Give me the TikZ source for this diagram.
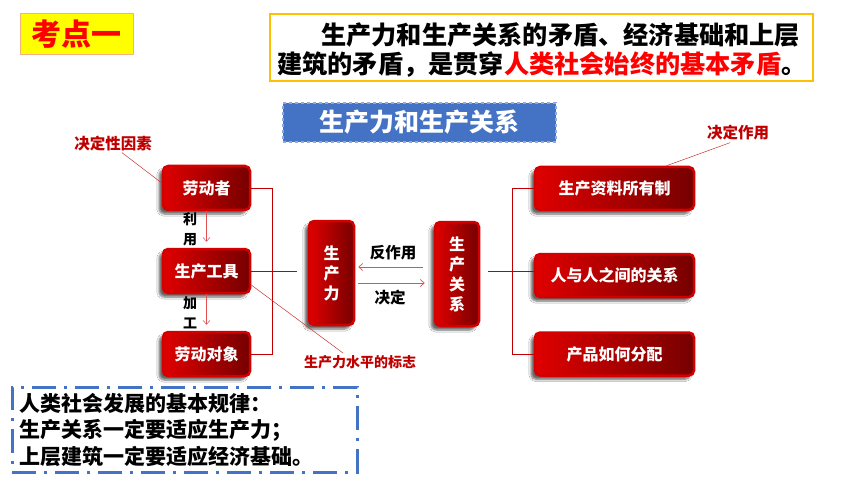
\documentclass[tikz,border=0pt]{standalone}
\usepackage{fontspec}
\setmainfont{Noto Sans CJK SC}
\usetikzlibrary{arrows.meta,shadows.blur,calc}
\definecolor{dred}{HTML}{C00000}
\definecolor{lred}{HTML}{E00000}
\definecolor{mred}{HTML}{C80000}
\definecolor{rred}{HTML}{760000}
\definecolor{rim}{HTML}{D40000}
\definecolor{kdy}{HTML}{FFFF00}
\definecolor{kdb}{HTML}{F4B183}
\definecolor{tbor}{HTML}{FFC000}
\definecolor{bluef}{HTML}{4472C4}
\definecolor{blueb}{HTML}{8FAADC}
\definecolor{arr}{HTML}{E05050}
\newcommand\myfs[1]{\fontsize{#1}{#1}\selectfont\bfseries}
\begin{document}
\begin{tikzpicture}[x=1pt,y=-1pt,
  redbox/.style={rounded corners=5pt, draw=rim, line width=2.5pt,
    left color=lred, middle color=mred, right color=rred,
    text=white, font=\myfs{16}, align=center, inner sep=0pt,
    blur shadow={shadow xshift=-4pt, shadow yshift=-4pt, shadow blur steps=6, shadow opacity=60}},
  hbox/.style={redbox, minimum width=87pt, minimum height=44pt},
  rbox/.style={redbox, minimum width=159pt, minimum height=43pt},
  vbox/.style={redbox, minimum width=45pt, minimum height=104pt, font=\fontsize{16}{20}\selectfont\bfseries},
  conn/.style={draw=dred, line width=0.8pt},
  thin/.style={draw=dred!80, line width=0.5pt},
  arrw/.style={draw=arr, line width=0.7pt, -{Straight Barb[length=4pt,width=7pt]}},
  lbl/.style={text=dred, font=\myfs{15.5}, inner sep=0pt},
  blbl/.style={text=black, font=\myfs{15.5}, inner sep=0pt}
]
\useasboundingbox (0,0) rectangle (860,484);
\fill[white] (0,0) rectangle (860,484);

% top boxes
\node[fill=kdy, draw=kdb, line width=1pt, minimum width=113pt, minimum height=41pt, inner sep=0pt,
  text=red, font=\myfs{30}] (kd) at (76.5,34.5) {考点一};
\node[draw=tbor, line width=1.5pt, fill=white, minimum width=543pt, minimum height=67pt] (tb) at (541.5,47.5) {};
\node[anchor=west, inner sep=0pt, font=\myfs{25.2}] (t1) at (321,35) {生产力和生产关系的矛盾、经济基础和上层};
\node[anchor=west, inner sep=0pt, font=\myfs{25.2}] (t2) at (277,65) {建筑的矛盾，是贯穿\textcolor{red}{人类社会始终的基本矛盾}。};

\node[fill=bluef, draw=blueb, dashed, line width=1.2pt, minimum width=273pt, minimum height=39pt,
  text=white, font=\myfs{25}, inner sep=0pt] (bt) at (419.5,122.5) {生产力和生产关系};

% left column
\node[hbox] (ldz) at (206.5,188) {劳动者};
\node[hbox] (gj) at (206.5,271) {生产工具};
\node[hbox] (ldd) at (206.5,354) {劳动对象};

% middle
\node[vbox] (scl) at (331.5,273) {生\\产\\力};
\node[vbox, minimum width=44pt] (gx) at (457,274) {生\\产\\关\\系};

% right column
\node[rbox] (r1) at (614.5,188.5) {生产资料所有制};
\node[rbox] (r2) at (614.5,275.5) {人与人之间的关系};
\node[rbox] (r3) at (614.5,354) {产品如何分配};

% labels
\node[lbl] (jdxl) at (113,144) {决定性因素};
\node[lbl] (jdzy) at (738,133) {决定作用};
\node[lbl, font=\myfs{14}] (bz) at (360,362) {生产力水平的标志};
\node[blbl] (fzy) at (393,253) {反作用};
\node[blbl] (jd) at (390,298) {决定};
\node[blbl, font=\fontsize{14}{20}\selectfont\bfseries, align=center] (ly) at (190,229) {利\\用};
\node[blbl, font=\fontsize{14}{20}\selectfont\bfseries, align=center] (jg) at (190,313) {加\\工};

% connectors
\coordinate (brk) at (272,0);
\coordinate (glend) at (297,271);
\coordinate (grs) at (488,271);
\coordinate (rbr) at (512,0);
\draw[conn] (ldz.east) -| (brk |- ldd.east) -- (ldd.east);
\draw[conn] (gj.east) -- (glend);
\draw[conn] (grs) -- (grs -| r2.west);
\draw[conn] (r1.west) -| (rbr |- r3.west) -- (r3.west);

\draw[arrw] ([xshift=-11pt,yshift=7pt]gx.west) -- ([xshift=3pt,yshift=6pt]scl.east);
\draw[arrw] ([xshift=3pt,yshift=-10pt]scl.east) -- ([xshift=-9pt,yshift=-9pt]gx.west);
\draw[arrw, line width=0.5pt] (ldz.south) -- ([yshift=6pt]gj.north);
\draw[arrw, line width=0.5pt] (gj.south) -- ([yshift=6pt]ldd.north);

\draw[thin] ([xshift=9pt,yshift=-1pt]jdxl.south) -- ([yshift=5pt]ldz.west);
\draw[thin] ([xshift=-8pt,yshift=-2pt]jdzy.south) -- ([xshift=52pt]r1.north);
\draw[thin] ([yshift=-14pt]gj.east) -- ([xshift=-17pt,yshift=2pt]bz.north);

% bottom box
\node[draw=bluef, line width=3pt, dash pattern=on 24pt off 8pt on 3pt off 8pt,
  minimum width=345pt, minimum height=85pt, inner sep=0pt] (law) at (184.5,429.5) {};
\node[anchor=north west, align=left, inner sep=0pt, font=\fontsize{21}{26.5}\selectfont\bfseries] (lawt) at (19,393)
  {人类社会发展的基本规律：\\生产关系一定要适应生产力；\\上层建筑一定要适应经济基础。};
\end{tikzpicture}
\end{document}
